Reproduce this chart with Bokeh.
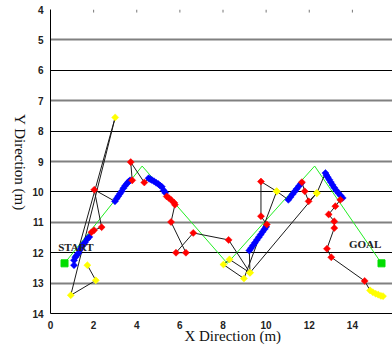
import math
from bokeh.plotting import figure
from bokeh.models import Range1d, SingleIntervalTicker, FixedTicker, Grid, LinearAxis
from bokeh.core.properties import value
from bokeh.embed import file_html
from bokeh.resources import INLINE

# planned (green) path
plan_x = [0.65, 4.25, 8.2, 12.25, 15.35]
plan_y = [12.35, 9.15, 12.35, 9.15, 12.35]
end_x = [0.65, 15.35]
end_y = [12.35, 12.35]
end_names = ["START", "GOAL"]
end_label_x = [1.18, 14.59]
end_label_y = [11.82, 11.71]

# measured trajectory, run A (kind: Y=yellow, B=blue, R=red)
runA_x = [1.71, 2.10, 0.94, 3.00,
          1.09, 1.09, 1.15, 1.21, 1.29, 1.37, 1.45, 1.53, 1.60, 1.71, 1.80,
          1.90, 2.02, 2.37, 2.03,
          2.99, 3.07, 3.14, 3.22, 3.30, 3.38, 3.46, 3.55, 3.63, 3.69,
          3.79, 3.72, 4.35,
          4.55, 4.62, 4.70, 4.80, 4.90, 5.00, 5.08, 5.16, 5.25, 5.32,
          5.39, 5.49, 5.60, 5.74, 5.77, 5.59, 6.28, 5.82, 6.62, 8.26,
          9.25, 8.30, 8.02, 8.97, 10.49,
          9.76, 9.76, 10.03,
          10.00, 9.92, 9.84, 9.75, 9.66, 9.57, 9.48, 9.39, 9.30, 9.22,
          9.25, 12.35,
          12.75, 12.80, 12.86, 12.93, 13.00, 13.08, 13.16, 13.25, 13.35, 13.45, 13.55,
          13.44, 13.21, 12.90, 13.16, 13.16, 12.82, 13.02, 14.57,
          14.82, 14.95, 15.08, 15.20, 15.32, 15.42]
runA_y = [12.41, 12.91, 13.40, 7.55,
          12.41, 12.25, 12.15, 12.09, 12.02, 11.90, 11.80, 11.72, 11.66, 11.55, 11.48,
          11.33, 11.26, 11.16, 9.93,
          10.31, 10.22, 10.14, 10.06, 9.98, 9.88, 9.80, 9.72, 9.66, 9.62,
          9.62, 9.02, 9.69,
          9.55, 9.58, 9.61, 9.65, 9.70, 9.74, 9.79, 9.83, 9.95, 10.03,
          10.15, 10.20, 10.27, 10.36, 10.42, 10.99, 12.00, 12.00, 11.35, 11.58,
          12.66, 12.22, 12.39, 12.85, 9.98,
          9.66, 10.80, 11.07,
          11.15, 11.23, 11.31, 11.40, 11.49, 11.58, 11.67, 11.76, 11.85, 11.93,
          12.66, 10.04,
          9.38, 9.45, 9.52, 9.60, 9.68, 9.77, 9.86, 9.95, 10.04, 10.12, 10.20,
          10.26, 10.47, 10.74, 10.97, 11.19, 11.87, 12.15, 12.93,
          13.24, 13.30, 13.35, 13.38, 13.42, 13.43]
runA_kind = (["Y"] * 4 + ["B"] * 11 + ["R"] * 4 + ["B"] * 10 + ["R"] * 3 + ["B"] * 10
             + ["R"] * 10 + ["Y"] * 5 + ["R"] * 3 + ["B"] * 10 + ["Y"] * 2 + ["B"] * 11
             + ["R"] * 8 + ["Y"] * 6)

# run B (branch through the second rise)
runB_x = [10.49, 11.03, 11.13, 11.22, 11.32, 11.42, 11.52, 11.62, 11.66, 11.79, 11.97, 12.35]
runB_y = [9.98, 10.26, 10.17, 10.08, 9.99, 9.90, 9.81, 9.72, 9.68, 9.98, 10.31, 10.04]
runB_kind = ["Y"] + ["B"] * 7 + ["R"] * 3 + ["Y"]

odd_grid = [5, 7, 9, 11, 13]
even_grid = [4, 6, 8, 10, 12]
top_ticks = [2, 4, 6, 8, 10, 12, 14]

kind_colors = {"B": "#0000FF", "R": "#FF0000", "Y": "#FFFF00"}

p = figure(width=392, height=346, x_range=Range1d(0, 15.86), y_range=Range1d(14, 4),
           output_backend="svg", toolbar_location=None,
           min_border_left=50, min_border_right=0, min_border_top=9, min_border_bottom=32)
p.outline_line_color = None
p.background_fill_color = "white"
p.border_fill_color = "white"
p.xgrid.visible = False
p.ygrid.visible = False

for ax in (p.xaxis, p.yaxis):
    ax.major_tick_in = 0
    ax.major_tick_out = 0
    ax.minor_tick_line_color = None
    ax.axis_line_color = "black"
    ax.major_label_text_font = "Liberation Sans"
    ax.major_label_text_font_size = "10px"
    ax.major_label_text_font_style = "bold"
    ax.major_label_text_color = "#222222"
    ax.major_label_standoff = 7
    ax.axis_label_text_font = "Liberation Serif"
    ax.axis_label_text_font_size = "15px"
    ax.axis_label_text_font_style = "normal"
    ax.axis_label_text_color = "#111111"
p.xaxis.ticker = SingleIntervalTicker(interval=2, num_minor_ticks=0)
p.yaxis.ticker = SingleIntervalTicker(interval=1, num_minor_ticks=0)

p.xaxis.axis_label = "\u00a0" * 6 + "X Direction (m)"
p.xaxis.axis_label_standoff = -4

# Y title: a label-only axis, read top to bottom, ending at y_title_pos
y_title_pos = 10.62
ytitle = LinearAxis(ticker=FixedTicker(ticks=[y_title_pos]),
                    major_label_overrides={y_title_pos: "Y Direction (m)"},
                    major_label_orientation=-math.pi / 2,
                    major_label_standoff=4,
                    major_label_text_font="Liberation Serif",
                    major_label_text_font_size="15px",
                    major_label_text_color="#111111",
                    axis_line_color=None, major_tick_line_color=None,
                    minor_tick_line_color=None)
p.add_layout(ytitle, "left")

# horizontal reference lines
p.add_layout(Grid(dimension=1, ticker=FixedTicker(ticks=odd_grid),
                  grid_line_color="#808080", grid_line_width=2))
p.add_layout(Grid(dimension=1, ticker=FixedTicker(ticks=even_grid),
                  grid_line_color="black", grid_line_width=1))
# small inner tick marks along the top edge
p.segment(x0=top_ticks, y0=[4] * len(top_ticks), x1=top_ticks, y1=[4.1] * len(top_ticks),
          line_color="#777777", line_width=1)

# planned path
p.line(plan_x, plan_y, line_color="#22EE22", line_width=1)

# trajectory lines
p.line(runA_x, runA_y, line_color="#1a1a1a", line_width=1)
p.line(runB_x, runB_y, line_color="#1a1a1a", line_width=1)

all_x = runA_x + runB_x
all_y = runA_y + runB_y
all_k = runA_kind + runB_kind
for k in ["B", "R", "Y"]:
    xs = [x for x, kk in zip(all_x, all_k) if kk == k]
    ys = [y for y, kk in zip(all_y, all_k) if kk == k]
    p.scatter(xs, ys, marker="square", angle=math.pi / 4, size=5,
              fill_color=kind_colors[k], line_color=kind_colors[k], line_width=0.5)

p.scatter(end_x, end_y, marker="square", size=7, fill_color="#00DD00", line_color="#00DD00")
p.text(end_label_x, end_label_y, text=end_names, text_font=value("Liberation Serif"),
       text_font_style="bold", text_font_size=value("11px"), text_color="#222222",
       text_align="center", text_baseline="middle")

open("out.html", "w").write(file_html(p, INLINE))
